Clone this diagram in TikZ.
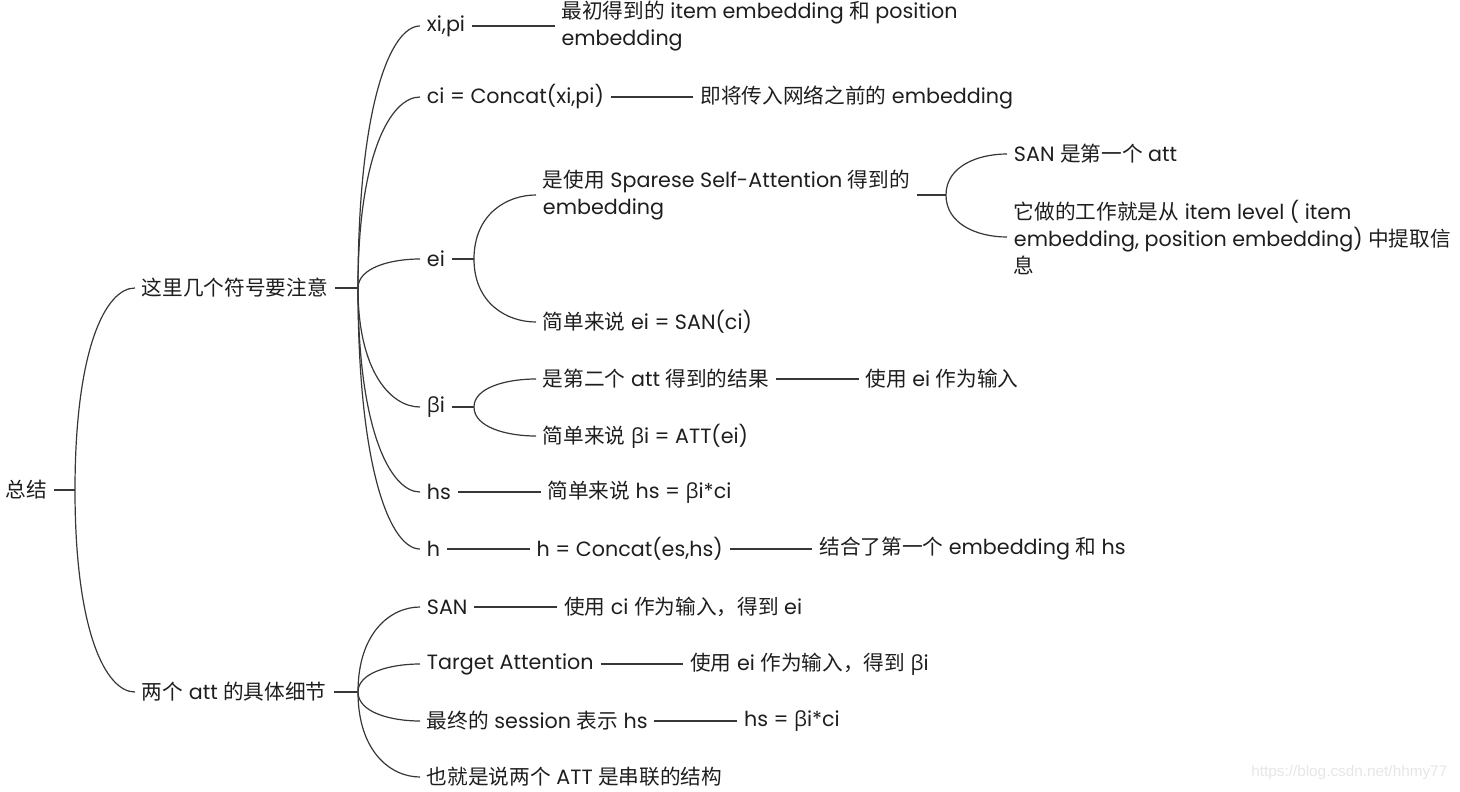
\documentclass[tikz,border=0pt]{standalone}
\usepackage{fontspec}
\setmainfont{Poppins}
\newfontfamily\zhfont{Noto Sans CJK SC}
\newfontfamily\grfont{Open Sans}
\newfontfamily\wmfont{Liberation Sans}
\newcommand\zh[1]{{\zhfont #1}}
\newcommand\bt{{\grfont β}}
\usetikzlibrary{positioning,calc}

\definecolor{txt}{RGB}{30,30,30}
\definecolor{edge}{RGB}{55,55,55}
\definecolor{wmark}{RGB}{230,230,230}

\tikzset{
  topic/.style={anchor=west,inner xsep=5pt,inner ysep=1pt,text=txt,align=left,
    font=\fontsize{15.5}{20.25}\selectfont},
  link/.style={draw=edge,line width=0.9pt},
}
% curved branch from a junction to the west side of a child
\newcommand\branch[2]{\draw[link] (#1) .. controls ($(#1)!0.7!(#1|-#2.west)$) and ([xshift=-22pt]#2.west) .. (#2.west);}

\begin{document}
\begin{tikzpicture}[x=0.75pt,y=-0.75pt]
    \useasboundingbox (0,0) rectangle (1460,792);

    % root
    \node[topic] (root) at (-1,490) {\zh{总结}};
    \coordinate (jR) at (75,490);
    \draw[link] (root) -- (jR);

    \node[topic] (sym) at (135,288) {\zh{这里几个符号要注意}};
    \node[topic] (two) at (135,692) {\zh{两个} att \zh{的具体细节}};
    \foreach \c in {sym,two} {\branch{jR}{\c}}

    % first group
    \coordinate (jS) at (358,288);
    \draw[link] (sym) -- (jS);

    \node[topic] (xipi) at (420,26) {xi,pi};
    \node[topic] (ci) at (420,97) {ci = Concat(xi,pi)};
    \node[topic] (ei) at (420,259) {ei};
    \node[topic] (beta) at (420,407) {\bt i};
    \node[topic] (hs) at (420,492) {hs};
    \node[topic] (h) at (420,549) {h};
    \foreach \c in {xipi,ci,ei,beta,hs,h} {\branch{jS}{\c}}

    \node[topic,right=62pt of xipi] (xipiN) {\zh{最初得到的} item embedding \zh{和} position\\embedding};
    \node[topic,right=62pt of ci] (ciN) {\zh{即将传入网络之前的} embedding};
    \draw[link] (xipi) -- (xipiN);
    \draw[link] (ci) -- (ciN);

    \coordinate (jE) at (474,259);
    \draw[link] (ei) -- (jE);
    \node[topic] (eiA) at (536,195) {\zh{是使用} Sparese Self-Attention \zh{得到的}\\embedding};
    \node[topic] (eiB) at (536,322) {\zh{简单来说} ei = SAN(ci)};
    \foreach \c in {eiA,eiB} {\branch{jE}{\c}}

    \coordinate (jEA) at (946,195);
    \draw[link] (eiA) -- (jEA);
    \node[topic] (san1) at (1007,154) {SAN \zh{是第一个} att};
    \node[topic] (san2) at (1007,237) {\zh{它做的工作就是从} item level ( item\\embedding, position embedding) \zh{中提取信}\\\zh{息}};
    \foreach \c in {san1,san2} {\branch{jEA}{\c}}

    \coordinate (jB) at (474,407);
    \draw[link] (beta) -- (jB);
    \node[topic] (btA) at (536,379) {\zh{是第二个} att \zh{得到的结果}};
    \node[topic] (btB) at (536,436) {\zh{简单来说} \bt i = ATT(ei)};
    \foreach \c in {btA,btB} {\branch{jB}{\c}}
    \node[topic,right=62pt of btA] (btAN) {\zh{使用} ei \zh{作为输入}};
    \draw[link] (btA) -- (btAN);

    \node[topic,right=62pt of hs] (hsN) {\zh{简单来说} hs = \bt i*ci};
    \draw[link] (hs) -- (hsN);

    \node[topic,right=62pt of h] (hN) {h = Concat(es,hs)};
    \node[topic,right=62pt of hN] (hNN) {\zh{结合了第一个} embedding \zh{和} hs};
    \draw[link] (h) -- (hN);
    \draw[link] (hN) -- (hNN);

    % second group
    \coordinate (jT) at (358,692);
    \draw[link] (two) -- (jT);

    \node[topic] (san) at (420,607) {SAN};
    \node[topic] (tatt) at (420,664) {Target Attention};
    \node[topic] (fin) at (420,721) {\zh{最终的} session \zh{表示} hs};
    \node[topic] (ser) at (420,777) {\zh{也就是说两个} ATT \zh{是串联的结构}};
    \foreach \c in {san,tatt,fin,ser} {\branch{jT}{\c}}

    \node[topic,right=62pt of san] (sanN) {\zh{使用} ci \zh{作为输入，得到} ei};
    \node[topic,right=62pt of tatt] (tattN) {\zh{使用} ei \zh{作为输入，得到} \bt i};
    \node[topic,right=62pt of fin] (finN) {hs = \bt i*ci};
    \draw[link] (san) -- (sanN);
    \draw[link] (tatt) -- (tattN);
    \draw[link] (fin) -- (finN);

    \node[anchor=east,text=wmark,font=\wmfont\fontsize{11.5}{12}\selectfont] (wm) at (1452,773) {https://blog.csdn.net/hhmy77};

\end{tikzpicture}
\end{document}
